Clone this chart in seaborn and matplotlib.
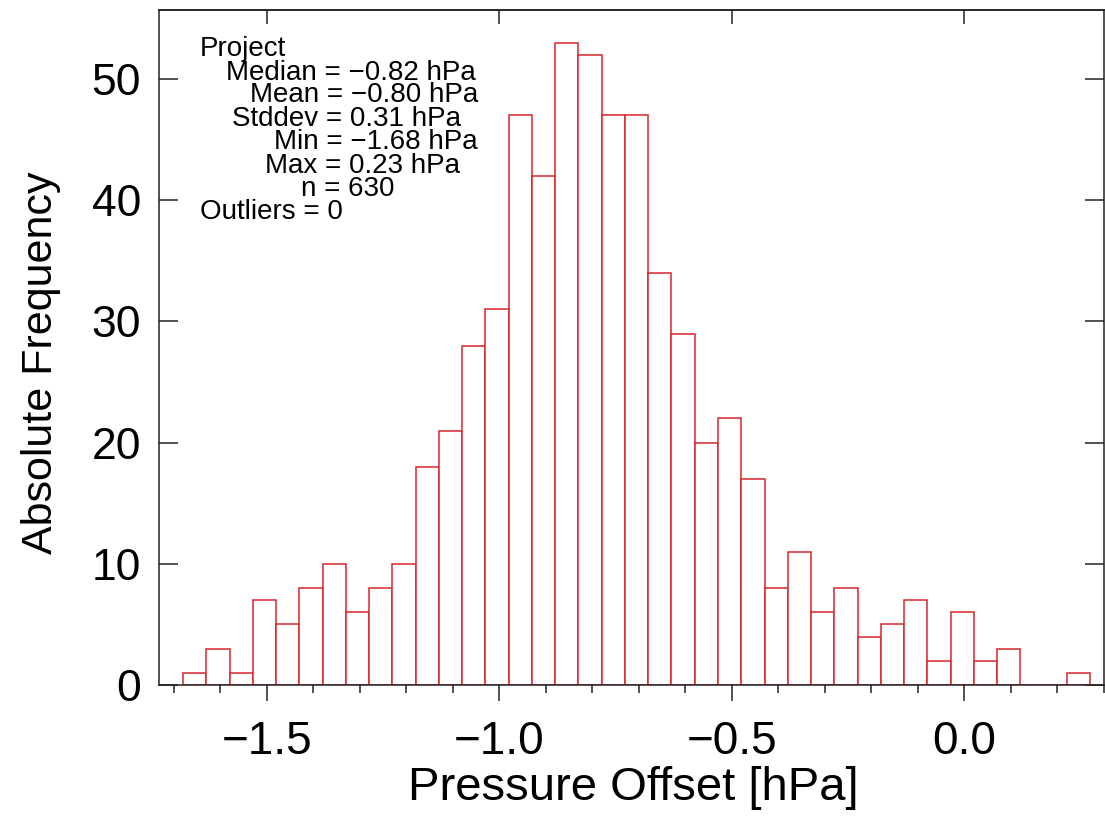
import numpy as np
import pandas as pd
import matplotlib
matplotlib.use('Agg')
import matplotlib.pyplot as plt
from matplotlib.ticker import MultipleLocator
import seaborn as sns

sns.set_style('ticks')
plt.rcParams['font.family'] = ['Liberation Sans', 'DejaVu Sans']
plt.rcParams['text.color'] = 'black'
plt.rcParams['axes.labelcolor'] = 'black'

# histogram: first bin starts at the minimum, 0.05 hPa wide
bin_start = -1.68
bin_width = 0.05
counts = [1, 3, 1, 7, 5, 8, 10, 6, 8, 10,
          18, 21, 28, 31, 47, 42, 53, 52, 47, 47,
          34, 29, 20, 22, 17, 8, 11, 6, 8, 4,
          5, 7, 2, 6, 2, 3, 0, 0, 1]

stats_lines = ['Project',
               'Median = \u22120.82 hPa',
               'Mean = \u22120.80 hPa',
               'Stddev = 0.31 hPa',
               'Min = \u22121.68 hPa',
               'Max = 0.23 hPa',
               'n = 630',
               'Outliers = 0']

x_ticks = [-1.5, -1.0, -0.5, 0.0]
y_ticks = [0, 10, 20, 30, 40, 50]

# where each stats line sits (pixel x, baseline y, alignment) in the 1105x816 image
stats_layout = [(200, 56, 'left'), (351, 80, 'center'), (364, 102, 'center'),
                (346.5, 126, 'center'), (376, 149, 'center'), (362.5, 173, 'center'),
                (347.5, 196, 'center'), (200, 219, 'left')]

edges = bin_start + bin_width * np.arange(len(counts) + 1)
centers = (edges[:-1] + edges[1:]) / 2
df = pd.DataFrame({'offset': centers, 'count': counts})

red = '#d9262b'
frame = '#222222'

fig = plt.figure(figsize=(11.05, 8.16), dpi=100)
ax_l, ax_r, ax_t, ax_b = 159, 1104, 10, 685
ax = fig.add_axes([ax_l / 1105, 1 - ax_b / 816, (ax_r - ax_l) / 1105, (ax_b - ax_t) / 816])

sns.histplot(data=df, x='offset', weights='count', bins=edges.tolist(), color='white',
             edgecolor=red, linewidth=1.1, alpha=1, ax=ax)

ax.set_xlim(-1.732, 0.3)
ax.set_ylim(0, 55.7)

ax.set_xticks(x_ticks)
ax.set_xticklabels(['\u22121.5', '\u22121.0', '\u22120.5', '0.0'])
ax.xaxis.set_minor_locator(MultipleLocator(0.1))
ax.set_yticks(y_ticks)

ax.tick_params(axis='x', which='major', direction='out', length=11.5, width=1.1,
               color=frame, labelcolor='black', labelsize=33, pad=14, top=False)
ax.tick_params(axis='x', which='minor', direction='out', length=5.8, width=1.1,
               color=frame, top=False)
ax.tick_params(axis='y', which='major', direction='in', length=14, width=1.1,
               color=frame, labelcolor='black', labelsize=32, pad=13, left=True, right=True)

top = ax.secondary_xaxis('top')
top.set_xticks(x_ticks)
top.set_xticklabels([])
top.tick_params(direction='in', length=10, width=1.1, color=frame)
top.spines['top'].set_color(frame)
top.spines['top'].set_linewidth(1.1)

for s in ax.spines.values():
    s.set_visible(True)
    s.set_color(frame)
    s.set_linewidth(1.1)

ax.set_xlabel('Pressure Offset [hPa]', fontsize=34)
ax.xaxis.set_label_coords(0.502, -0.12)
ax.set_ylabel('Absolute Frequency', fontsize=31)
ax.yaxis.set_label_coords(-0.1037, 0.478)

for line, (px, py, ha) in zip(stats_lines, stats_layout):
    ax.text((px - ax_l) / (ax_r - ax_l), (ax_b - py) / (ax_b - ax_t), line,
            transform=ax.transAxes, ha=ha, va='baseline', fontsize=20, color='black')

fig.savefig('out.png', dpi=100)
